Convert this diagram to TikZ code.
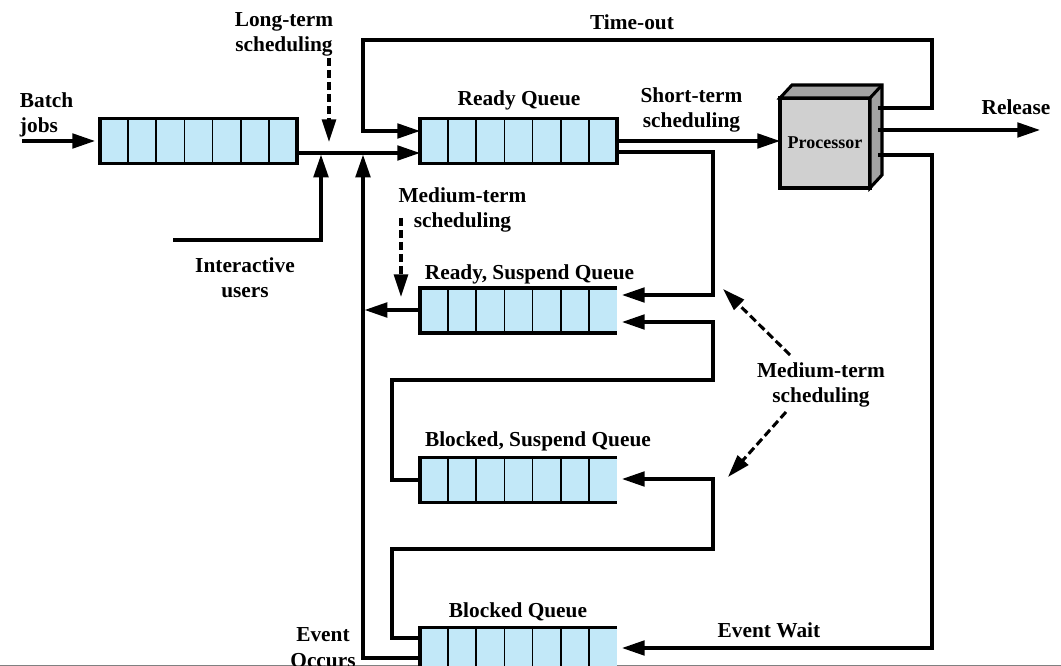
\documentclass[tikz,border=0pt]{standalone}
\usepackage{fontspec}
\setmainfont{Liberation Serif}
\usetikzlibrary{arrows.meta,calc}
\definecolor{qfill}{HTML}{C2E8F8}
\definecolor{pfront}{HTML}{D0D0D0}
\definecolor{pside}{HTML}{A3A3A3}
\begin{document}
\begin{tikzpicture}[x=0.75pt,y=-0.75pt,
  every node/.style={font=\bfseries\fontsize{16}{19.2}\selectfont, inner sep=0pt, outer sep=0pt},
  lbl/.style={anchor=base, align=center},
  queue/.style={fill=qfill, minimum width=147.75pt, minimum height=33.75pt},
  wire/.style={line width=2.3pt},
  flow/.style={wire, -{Triangle[length=17pt,width=11pt]}},
  dflow/.style={wire, dash pattern=on 6pt off 3pt, -{Triangle[length=17pt,width=10.5pt]}},
  rim/.style={line width=2.6pt},
  cell/.style={line width=1.3pt},
  gap/.style={shorten >=3.75pt}]

\useasboundingbox (0,0) rectangle (1061,666);
\clip (0,0) rectangle (1061,666);

% page rule at the foot
\draw[gray, line width=1pt] (0,665.5) -- (1061,665.5);

% queues
\node[queue] (batch)   at (198.5,141)   {};
\node[queue] (ready)   at (518.5,141)   {};
\node[queue] (rsus)    at (518.5,310.5) {};
\node[queue] (bsus)    at (518.5,480)   {};
\node[queue] (blocked) at (518.5,650)   {};
\foreach \q in {batch,ready,rsus,bsus,blocked}{
  \foreach \i in {1,...,6}
    \draw[cell] ($(\q.north west)!\i/7!(\q.north east)$) -- ($(\q.south west)!\i/7!(\q.south east)$);
  \draw[rim] (\q.north east) -- (\q.north west) -- (\q.south west) -- (\q.south east);
}
\foreach \q in {batch,ready}
  \draw[rim] (\q.north west) rectangle (\q.south east);

% processor block
\node[minimum width=67.5pt, minimum height=67.5pt, fill=pfront, draw, line width=2.3pt,
      font=\bfseries\fontsize{13.5}{16}\selectfont] (proc) at (825,143) {Processor};
\filldraw[fill=pside, line width=2.3pt, line join=miter]
  (proc.north west) -- ++(12,-13) -- ++(90,0) -- ++(0,90) -- (proc.south east) -- (proc.north east) -- cycle;
\draw[line width=2.3pt] (proc.north east) -- ++(12,-13);

% free ends and junctions
\coordinate (bsrc)  at (22,141);
\coordinate (isrc)  at (173,240);
\coordinate (join1) at (321,153);
\coordinate (join2) at (363,153);
\coordinate (relend) at (1040,130);
\coordinate (lt1) at (329,58);
\coordinate (lt2) at (329,142);
\coordinate (mt1) at (401,218);
\coordinate (mt2) at (401,297);
\coordinate (mr1) at (790,355);
\coordinate (mr2) at (723,289);
\coordinate (mr3) at (786,412);
\coordinate (mr4) at (728,477);
\coordinate (pout1) at ($(proc.east)+(8,-35)$);
\coordinate (pout2) at ($(proc.east)+(8,-13)$);
\coordinate (pout3) at ($(proc.east)+(8,12)$);

% connectors
\draw[flow, shorten >=3.75pt] (bsrc) -- (batch.west);
\draw[flow] ($(batch.east)+(0,12)$) -- ($(ready.west)+(0,12)$);
\draw[flow, shorten >=1.2pt] (isrc) -| (join1);
\draw[flow] (pout1) -- (932,108) |- (363,40) |- ($(ready.west)+(0,-10)$);
\draw[flow] (ready.east) -- (ready.east -| proc.west);
\draw[flow] (pout2) -- (relend);
\draw[flow, gap] (pout3) -- (932,155) |- ($(blocked.east)+(0,-2)$);
\draw[flow, gap] ($(ready.east)+(0,11)$) -| (713,295) -- ($(rsus.east)+(0,-15.5)$);
\draw[flow, shorten >=1.2pt] ($(rsus.west)+(0,-0.5)$) -- (363,310);
\draw[flow, gap] (bsus.west) -- (392,480) |- (713,380) |- ($(rsus.east)+(0,11.5)$);
\draw[flow, gap] ($(blocked.west)+(0,-12)$) -| (392,549) -| (713,479) -- ($(bsus.east)+(0,-1)$);
\draw[flow, shorten >=1.2pt] ($(blocked.west)+(0,8)$) -| (join2);

% scheduling pointers
\draw[dflow] (lt1) -- (lt2);
\draw[dflow] (mt1) -- (mt2);
\draw[dflow] (mr1) -- (mr2);
\draw[dflow] (mr3) -- (mr4);

% labels (two-line labels sit on the baseline of their second line)
\node[lbl, anchor=base west, align=left] (bjl) at (20,133) {Batch\\jobs};
\node[lbl] (ltl)  at (284,52)   {Long-term\\scheduling};
\node[lbl] (tol)  at (632,30)   {Time-out};
\node[lbl] (rql)  at (519,106)  {Ready Queue};
\node[lbl] (stl)  at (691.5,128) {Short-term\\scheduling};
\node[lbl] (rel)  at (1016,115) {Release};
\node[lbl] (iul)  at (245,298)  {Interactive\\users};
\node[lbl] (mtl1) at (462.5,228) {Medium-term\\scheduling};
\node[lbl] (rsl)  at (529.5,280) {Ready, Suspend Queue};
\node[lbl] (mtl2) at (821,403)  {Medium-term\\scheduling};
\node[lbl] (bsl)  at (538,447)  {Blocked, Suspend Queue};
\node[lbl] (bql)  at (518,618)  {Blocked Queue};
\node[lbl] (eol)  at (323,667)  {Event\\Occurs};
\node[lbl] (ewl)  at (769,638)  {Event Wait};
\end{tikzpicture}
\end{document}
